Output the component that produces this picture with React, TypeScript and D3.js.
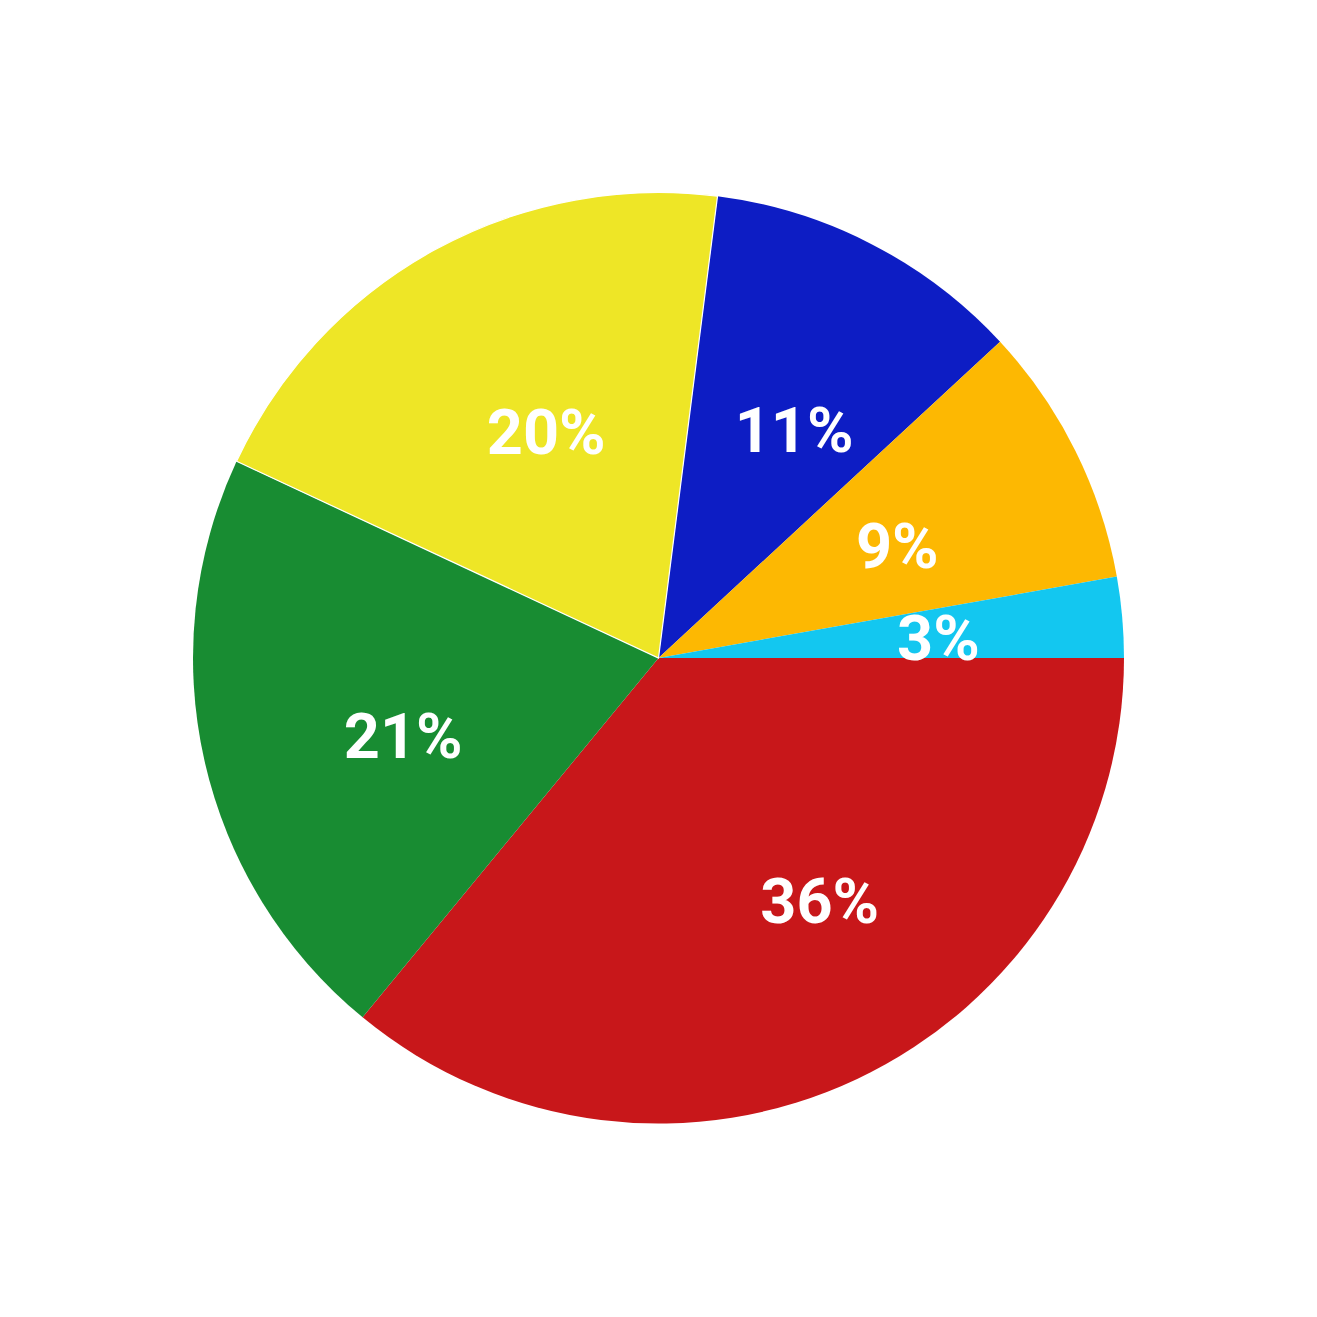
import React from "react";
import * as d3 from "d3";

const categories = ["A", "B", "C", "D", "E", "F"];
const values = [36.0, 21.0, 20.1, 11.1, 9.1, 2.8];
const labels = ["36%", "21%", "20%", "11%", "9%", "3%"];
const colors = ["#C8171A", "#188C32", "#EEE626", "#0D1DC4", "#FDB802", "#13C7F0"];
// label nudges (px) relative to the label-arc centroid
const labelNudge: [number, number][] = [
  [46, -2],
  [8, 18],
  [18, 10],
  [12, 12],
  [-3, 8],
  [11, 3],
];
// slices drawn with a thin white outline in the reference
const outlined = [false, false, true, false, false, false];

const W = 1317;
const H = 1317;
const CX = 658.5;
const CY = 658;
const R = 465.5;
const FONT = 63;

export default function App() {
  const pie = d3
    .pie<number>()
    .sort(null)
    .value((d) => d)
    .startAngle(Math.PI / 2)
    .endAngle(Math.PI / 2 + 2 * Math.PI);
  const arcs = pie(values);
  const arc = d3.arc<d3.PieArcDatum<number>>().innerRadius(0).outerRadius(R);
  const labelArc = d3
    .arc<d3.PieArcDatum<number>>()
    .innerRadius(R * 0.58)
    .outerRadius(R * 0.58);

  return (
    <svg
      width={W}
      height={H}
      style={{ position: "absolute", left: 0, top: 0, background: "#fff" }}
    >
      <g transform={`translate(${CX},${CY})`}>
        {arcs.map((a, i) => (
          <path key={categories[i]} d={arc(a) || ""} fill={colors[i]} />
        ))}
        {arcs.map((a, i) =>
          outlined[i] ? (
            <path
              key={"o" + categories[i]}
              d={arc(a) || ""}
              fill="none"
              stroke="#fff"
              strokeWidth={1.2}
            />
          ) : null
        )}
        {arcs.map((a, i) => {
          const [x, y] = labelArc.centroid(a);
          return (
            <text
              key={"l" + categories[i]}
              x={x + labelNudge[i][0]}
              y={y + labelNudge[i][1]}
              dy={FONT * 0.355}
              textAnchor="middle"
              fill="#fff"
              fontFamily="Roboto, 'Noto Sans', sans-serif"
              fontWeight={700}
              fontSize={FONT}
            >
              {labels[i]}
            </text>
          );
        })}
      </g>
    </svg>
  );
}
